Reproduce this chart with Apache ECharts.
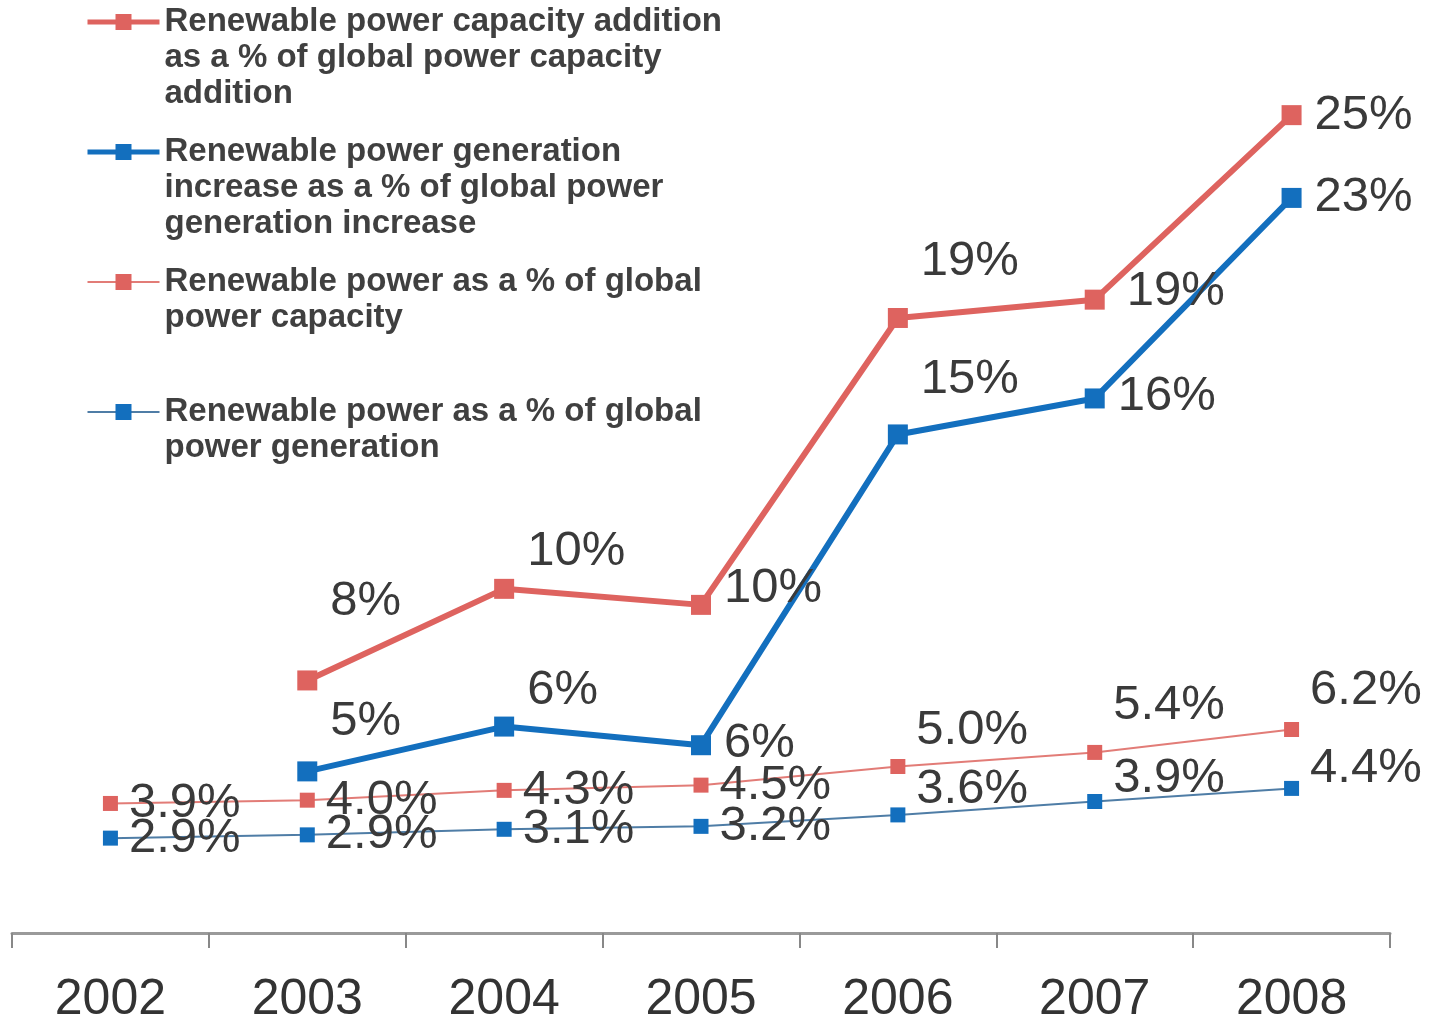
<!DOCTYPE html>
<html>
<head>
<meta charset="utf-8">
<script src="https://cdn.jsdelivr.net/npm/echarts@6/dist/echarts.min.js"></script>
<style>
  html, body { margin: 0; padding: 0; background: #ffffff; }
  #chart { width: 1436px; height: 1025px; }
</style>
</head>
<body>
<div id="chart"></div>
<script>
// ---- data ----
const categories = ['2002', '2003', '2004', '2005', '2006', '2007', '2008'];

const seriesNames = [
  'Renewable power capacity addition as a % of global power capacity addition',
  'Renewable power generation increase as a % of global power generation increase',
  'Renewable power as a % of global power capacity',
  'Renewable power as a % of global power generation'
];
const legendLines = [
  ['Renewable power capacity addition', 'as a % of global power capacity', 'addition'],
  ['Renewable power generation', 'increase as a % of global power', 'generation increase'],
  ['Renewable power as a % of global', 'power capacity'],
  ['Renewable power as a % of global', 'power generation']
];

const capAddShare  = [null, 7.72, 10.52, 10.03, 18.80, 19.36, 25.0];
const capAddLabels = ['', '8%', '10%', '10%', '19%', '19%', '25%'];

const genIncShare  = [null, 4.94, 6.31, 5.74, 15.24, 16.34, 22.47];
const genIncLabels = ['', '5%', '6%', '6%', '15%', '16%', '23%'];

const capShare  = [3.96, 4.06, 4.36, 4.52, 5.09, 5.52, 6.22];
const capLabels = ['3.9%', '4.0%', '4.3%', '4.5%', '5.0%', '5.4%', '6.2%'];

const genShare  = [2.90, 3.00, 3.17, 3.26, 3.61, 4.02, 4.42];
const genLabels = ['2.9%', '2.9%', '3.1%', '3.2%', '3.6%', '3.9%', '4.4%'];

// ---- label placement (layout only) ----
const labelShift = [
  [[0,0],[0,-79],[0,-37],[0,-16],[0,-56],[9,-8],[0,0]],
  [[0,0],[0,-50],[0,-36],[0,-2],[0,-55],[0,-2],[0,0]],
  [[0,0],[0,0],[0,0],[0,0],[0,-36],[0,-47],[0,-39]],
  [[0,0],[0,0],[0,0],[0,0],[0,-25],[0,-23],[0,-20]]
];

const RED = '#DE635F';
const BLUE = '#136FBE';
const FONT = '"Liberation Sans", Arial, sans-serif';

function buildData(values, idx) {
  return values.map((v, i) => ({
    value: v,
    label: { offset: labelShift[idx][i] }
  }));
}

function makeSeries(idx, values, labels, color, lineColor, lineWidth, symSize, dist) {
  return {
    name: seriesNames[idx],
    type: 'line',
    data: buildData(values, idx),
    symbol: 'rect',
    symbolSize: symSize,
    showAllSymbol: true,
    itemStyle: { color: color },
    lineStyle: { color: lineColor, width: lineWidth },
    z: idx < 2 ? 4 : 3,
    label: {
      show: true,
      position: 'right',
      distance: dist,
      color: '#3a3a3a',
      fontFamily: FONT,
      fontSize: 49,
      formatter: p => labels[p.dataIndex]
    },
    emphasis: { disabled: true }
  };
}

const chart = echarts.init(document.getElementById('chart'), null, { renderer: 'canvas' });

// legend text: two blank lines before, so the first line sits level with the icon;
// pad to 3 real lines so every entry takes the same height
const legendNameMap = {};
seriesNames.forEach((n, i) => {
  const lines = legendLines[i].slice();
  while (lines.length < 3) lines.push(' ');
  legendNameMap[n] = [' ', ' '].concat(lines).join('\n');
});

chart.setOption({
  animation: false,
  backgroundColor: '#ffffff',
  grid: { left: 12, right: 46, top: 17, bottom: 90, containLabel: false },
  legend: {
    orient: 'vertical',
    left: 85,
    top: -68,
    padding: 0,
    itemGap: -50,
    itemWidth: 72,
    itemHeight: 20,
    selectedMode: false,
    data: [
      { name: seriesNames[0], lineStyle: { width: 5 } },
      { name: seriesNames[1], lineStyle: { width: 5 } },
      { name: seriesNames[2], lineStyle: { width: 2 } },
      { name: seriesNames[3], lineStyle: { width: 2 } }
    ],
    formatter: name => legendNameMap[name],
    textStyle: {
      fontFamily: FONT,
      fontSize: 33,
      fontWeight: 'bold',
      color: '#404040',
      lineHeight: 36
    }
  },
  xAxis: {
    type: 'category',
    data: categories,
    boundaryGap: true,
    axisLine: { show: true, lineStyle: { color: '#9a9a9a', width: 3 } },
    axisTick: { show: true, length: 15, lineStyle: { color: '#888888', width: 2 } },
    axisLabel: {
      color: '#333333',
      fontFamily: FONT,
      fontSize: 50,
      margin: 42
    },
    splitLine: { show: false }
  },
  yAxis: {
    type: 'value',
    min: 0,
    max: 28,
    show: false,
    splitLine: { show: false }
  },
  series: [
    makeSeries(2, capShare, capLabels, RED, '#E27C77', 2, 15, 11),
    makeSeries(3, genShare, genLabels, BLUE, '#4F7DA6', 2, 15, 11),
    makeSeries(0, capAddShare, capAddLabels, RED, RED, 6, 20, 13),
    makeSeries(1, genIncShare, genIncLabels, BLUE, BLUE, 6, 20, 13)
  ]
});
</script>
</body>
</html>
